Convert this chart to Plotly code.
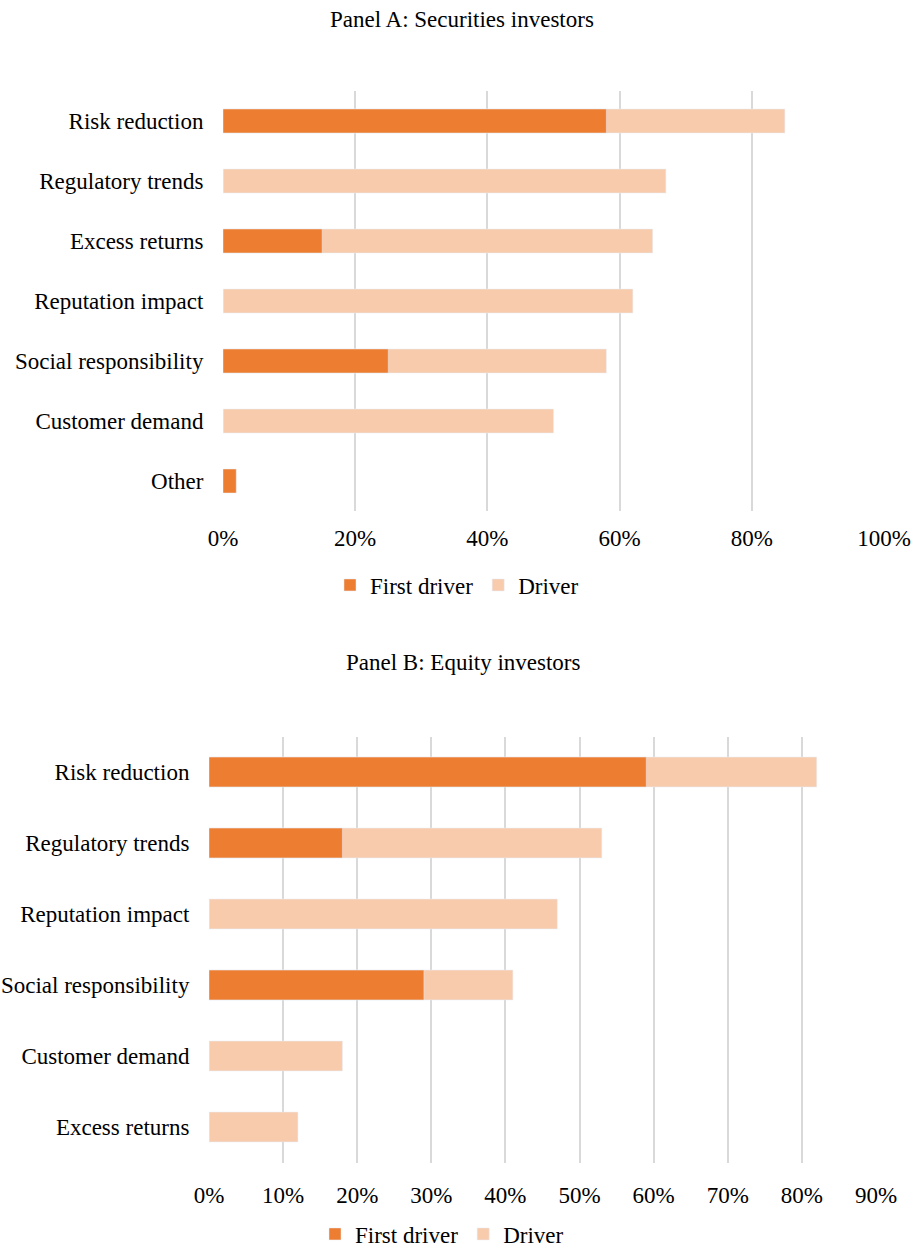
import plotly.graph_objects as go

W, H = 914, 1249

# Panel A data
cats_a = ["Risk reduction", "Regulatory trends", "Excess returns", "Reputation impact",
          "Social responsibility", "Customer demand", "Other"]
first_a = [58, 0, 15, 0, 25, 0, 2]
driver_a = [85, 67, 65, 62, 58, 50, 0]

# Panel B data
cats_b = ["Risk reduction", "Regulatory trends", "Reputation impact",
          "Social responsibility", "Customer demand", "Excess returns"]
first_b = [59, 18, 0, 29, 0, 0]
driver_b = [82, 53, 47, 41, 18, 12]

ticks_a = [0, 20, 40, 60, 80, 100]
ticks_b = [0, 10, 20, 30, 40, 50, 60, 70, 80, 90]

DARK = "#ED7D31"
LIGHT = "#F8CBAD"
FONT = "Liberation Serif"
FS = 23


def px_x(p):
    return p / W


def px_y(p):
    return 1 - p / H


fig = go.Figure()

fig.add_trace(go.Bar(y=cats_a, x=driver_a, orientation="h", name="Driver", marker_color=LIGHT,
                     width=0.4, xaxis="x", yaxis="y", legend="legend", legendrank=2,
                     hoverinfo="x+y"))
fig.add_trace(go.Bar(y=cats_a, x=first_a, orientation="h", name="First driver", marker_color=DARK,
                     width=0.4, xaxis="x", yaxis="y", legend="legend", legendrank=1,
                     hoverinfo="x+y"))
fig.add_trace(go.Bar(y=cats_b, x=driver_b, orientation="h", name="Driver", marker_color=LIGHT,
                     width=0.42, xaxis="x2", yaxis="y2", legend="legend2", legendrank=2,
                     hoverinfo="x+y"))
fig.add_trace(go.Bar(y=cats_b, x=first_b, orientation="h", name="First driver", marker_color=DARK,
                     width=0.42, xaxis="x2", yaxis="y2", legend="legend2", legendrank=1,
                     hoverinfo="x+y"))

grid = dict(showgrid=True, gridcolor="#D9D9D9", gridwidth=1.5, zeroline=False,
            showline=False, ticks="outside", tickcolor="rgba(0,0,0,0)",
            automargin=False,
            tickfont=dict(family=FONT, size=FS, color="#000"), fixedrange=True)

ycommon = dict(showgrid=False, zeroline=False, showline=False, ticks="outside", ticklen=14,
               tickcolor="rgba(0,0,0,0)", automargin=False,
               tickfont=dict(family=FONT, size=FS, color="#000"))

fig.update_layout(
    width=W, height=H,
    margin=dict(l=0, r=0, t=0, b=0, autoexpand=False),
    paper_bgcolor="white", plot_bgcolor="white",
    barmode="overlay",
    font=dict(family=FONT, size=FS, color="#000"),
    xaxis=dict(domain=[px_x(223), px_x(884)], range=[0, 100], tickvals=ticks_a, ticklen=6,
               ticktext=[f"{t}%" for t in ticks_a], anchor="y", **grid),
    yaxis=dict(domain=[px_y(511), px_y(91)], range=[6.5, -0.5], anchor="x", **ycommon),
    xaxis2=dict(domain=[px_x(209), px_x(876)], range=[0, 90], tickvals=ticks_b, ticklen=12,
                ticktext=[f"{t}%" for t in ticks_b], anchor="y2", **grid),
    yaxis2=dict(domain=[px_y(1162.5), px_y(736.5)], range=[5.5, -0.5], anchor="x2", **ycommon),
    legend=dict(orientation="h", x=px_x(457), xanchor="center", y=px_y(585), yanchor="middle",
                font=dict(family=FONT, size=FS), bgcolor="rgba(0,0,0,0)"),
    legend2=dict(orientation="h", x=px_x(442), xanchor="center", y=px_y(1234), yanchor="middle",
                 font=dict(family=FONT, size=FS), bgcolor="rgba(0,0,0,0)"),
    annotations=[
        dict(text="Panel A: Securities investors", x=px_x(462), y=px_y(19), xref="paper",
             yref="paper", showarrow=False, xanchor="center", yanchor="middle",
             font=dict(family=FONT, size=FS)),
        dict(text="Panel B: Equity investors", x=px_x(463), y=px_y(662), xref="paper",
             yref="paper", showarrow=False, xanchor="center", yanchor="middle",
             font=dict(family=FONT, size=FS)),
    ],
)

fig.write_html("out.html")
